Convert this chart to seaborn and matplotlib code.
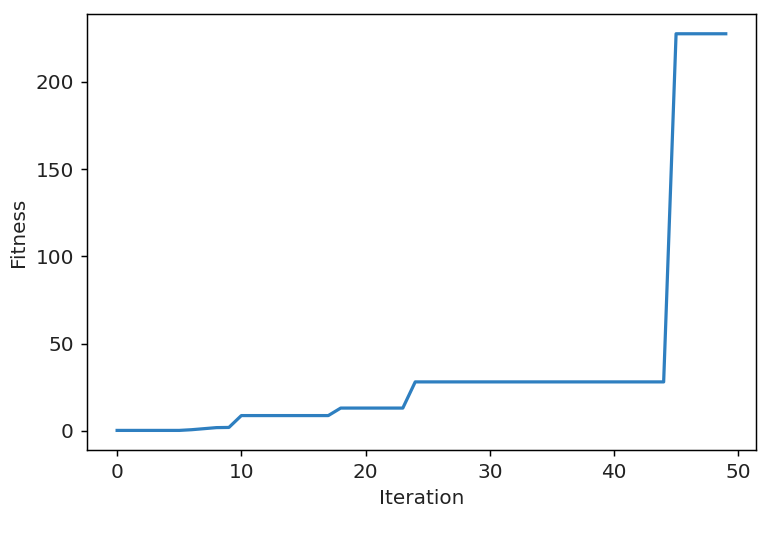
import numpy as np
import pandas as pd
import matplotlib
matplotlib.use("Agg")
import matplotlib.pyplot as plt
import seaborn as sns

# fitness values, one per iteration
iterations = list(range(50))
fitness = (
    [0.2] * 6                      # 0-5
    + [0.6, 1.2, 1.8, 1.9]         # 6-9
    + [8.7] * 8                    # 10-17
    + [13.0] * 6                   # 18-23
    + [28.0] * 21                  # 24-44
    + [227.5] * 5                  # 45-49
)

df = pd.DataFrame({"Iteration": iterations, "Fitness": fitness})

plt.rcParams["font.size"] = 10.9
plt.rcParams["text.color"] = "#222222"
plt.rcParams["xtick.labelcolor"] = "#222222"
plt.rcParams["ytick.labelcolor"] = "#222222"
plt.rcParams["axes.labelcolor"] = "#222222"

dpi = 132
fig = plt.figure(figsize=(774 / dpi, 536 / dpi), dpi=dpi)
ax = fig.add_axes([0.112, 0.160, 0.865, 0.814])

sns.lineplot(data=df, x="Iteration", y="Fitness", color="#2e7fc0",
             linewidth=1.75, ax=ax)
ax.set_xlabel("Iteration")
ax.set_ylabel("Fitness")

fig.savefig("out.png", dpi=dpi)
